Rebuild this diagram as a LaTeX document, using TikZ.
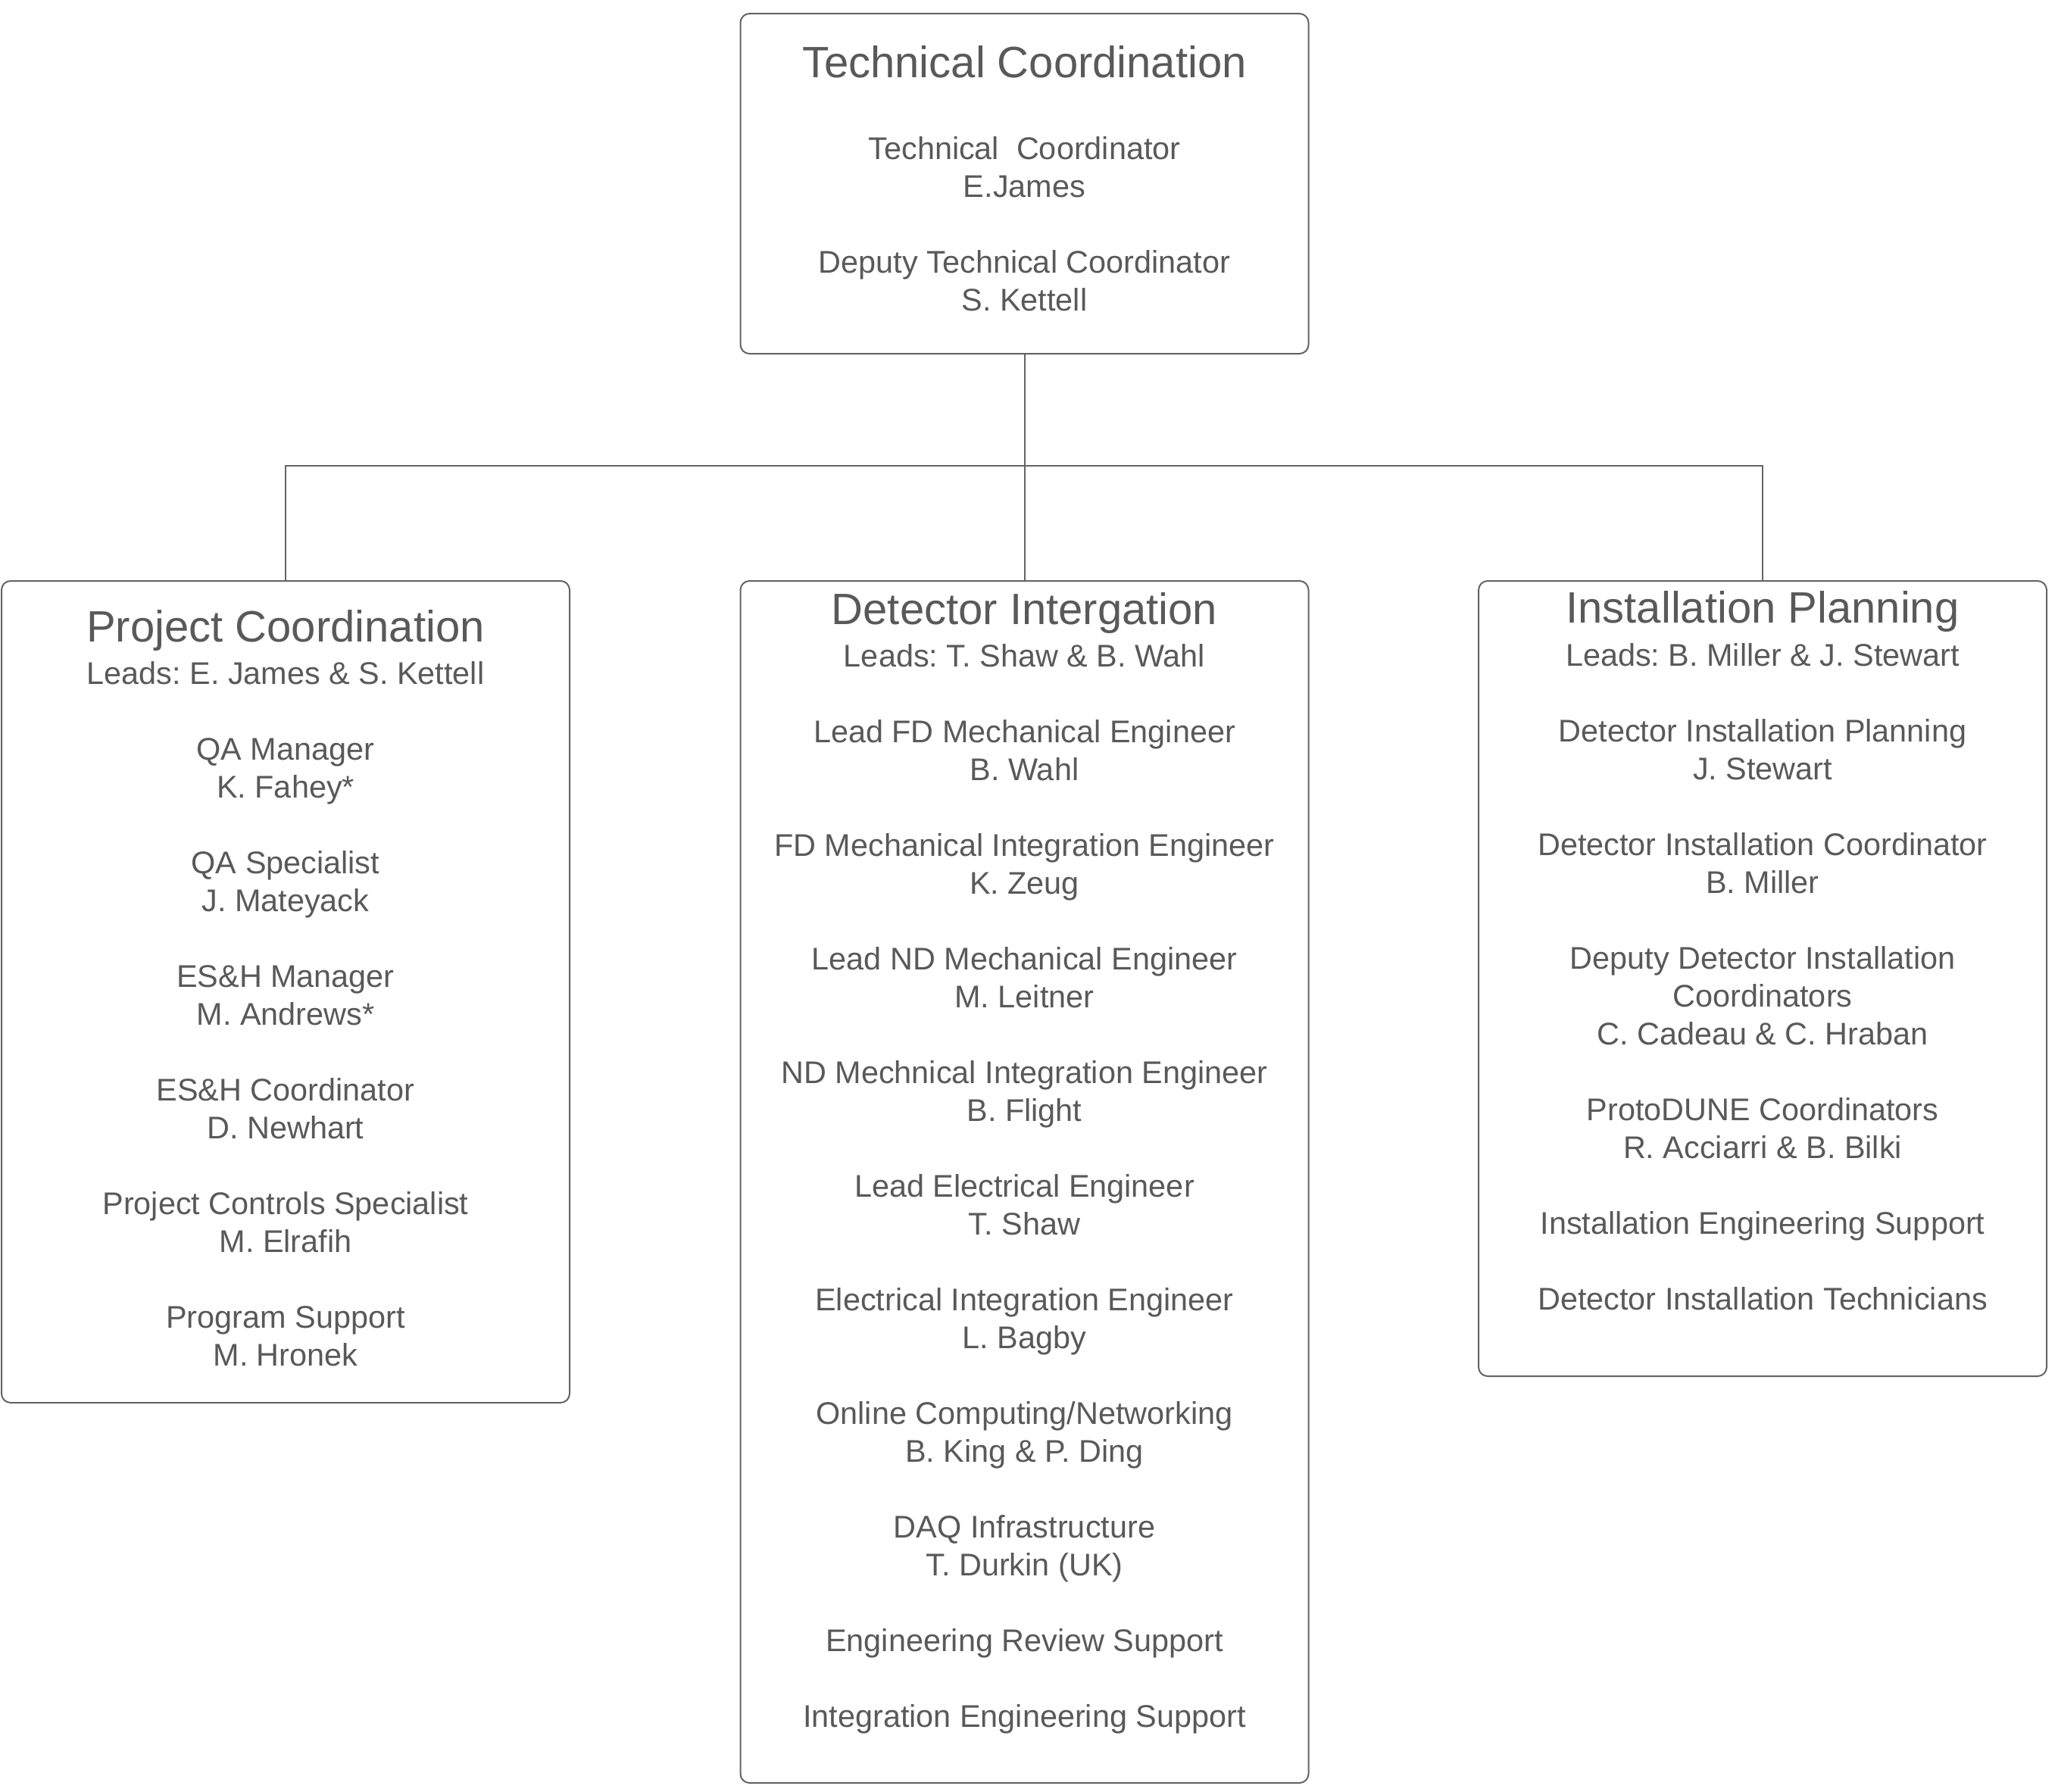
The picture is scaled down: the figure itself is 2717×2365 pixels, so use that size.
\documentclass[tikz,border=0pt]{standalone}
\usepackage{fontspec}
\setmainfont{Liberation Sans}
\usepackage{xcolor}
\definecolor{textgray}{RGB}{89,89,89}
\definecolor{linegray}{RGB}{100,100,100}
\usetikzlibrary{positioning}
\frenchspacing

\begin{document}
\begin{tikzpicture}[
    x=0.5pt, y=-0.5pt,
    every node/.style={align=center, text=textgray, inner sep=0pt},
    unitbox/.style={draw=linegray, line width=1pt, rounded corners=6pt, minimum width=375pt, anchor=north},
    titletext/.style={font=\fontsize{29}{35}\selectfont, anchor=base},
    bodytext/.style={font=\fontsize{20.7}{25}\selectfont, anchor=north},
    link/.style={draw=linegray, line width=1pt}
]
    \useasboundingbox (0,0) rectangle (2717,2365);

    % Boxes
    \node[unitbox, minimum height=224.5pt] (tc) at (1352.5,17) {};
    \node[unitbox, minimum height=542.5pt] (pc) at (377,766) {};
    \node[unitbox, minimum height=793.5pt] (di) at (1352.5,766) {};
    \node[unitbox, minimum height=525pt] (ip) at (2327,766) {};

    % Technical Coordination
    \node[titletext] (tc-title) at (1352.5,103) {Technical Coordination};
    \node[bodytext] (tc-body) at (1352.5,180) {
        Technical\ \ Coordinator\\E.James\\[25pt]
        Deputy Technical Coordinator\\S. Kettell
    };

    % Project Coordination
    \node[titletext] (pc-title) at (377,847) {Project Coordination};
    \node[bodytext] (pc-body) at (377,873) {
        Leads: E. James \& S. Kettell\\[25pt]
        QA Manager\\K. Fahey*\\[25pt]
        QA Specialist\\J. Mateyack\\[25pt]
        ES\&H Manager\\M. Andrews*\\[25pt]
        ES\&H Coordinator\\D. Newhart\\[25pt]
        Project Controls Specialist\\M. Elrafih\\[25pt]
        Program Support\\M. Hronek
    };

    % Detector Intergation
    \node[titletext] (di-title) at (1352.5,824) {Detector Intergation};
    \node[bodytext] (di-body) at (1352.5,850) {
        Leads: T. Shaw \& B. Wahl\\[25pt]
        Lead FD Mechanical Engineer\\B. Wahl\\[25pt]
        FD Mechanical Integration Engineer\\K. Zeug\\[25pt]
        Lead ND Mechanical Engineer\\M. Leitner\\[25pt]
        ND Mechnical Integration Engineer\\B. Flight\\[25pt]
        Lead Electrical Engineer\\T. Shaw\\[25pt]
        Electrical Integration Engineer\\L. Bagby\\[25pt]
        Online Computing/Networking\\B. King \& P. Ding\\[25pt]
        DAQ Infrastructure\\T. Durkin (UK)\\[25pt]
        Engineering Review Support\\[25pt]
        Integration Engineering Support
    };

    % Installation Planning
    \node[titletext] (ip-title) at (2327,822) {Installation Planning};
    \node[bodytext] (ip-body) at (2327,849) {
        Leads: B. Miller \& J. Stewart\\[25pt]
        Detector Installation Planning\\J. Stewart\\[25pt]
        Detector Installation Coordinator\\B. Miller\\[25pt]
        Deputy Detector Installation\\Coordinators\\C. Cadeau \& C. Hraban\\[25pt]
        ProtoDUNE Coordinators\\R. Acciarri \& B. Bilki\\[25pt]
        Installation Engineering Support\\[25pt]
        Detector Installation Technicians
    };

    % Connectors
    \coordinate (bus) at (1352.5,615);
    \draw[link] (tc.south) -- (di.north);
    \draw[link] (pc.north) |- (bus) -| (ip.north);
\end{tikzpicture}
\end{document}
